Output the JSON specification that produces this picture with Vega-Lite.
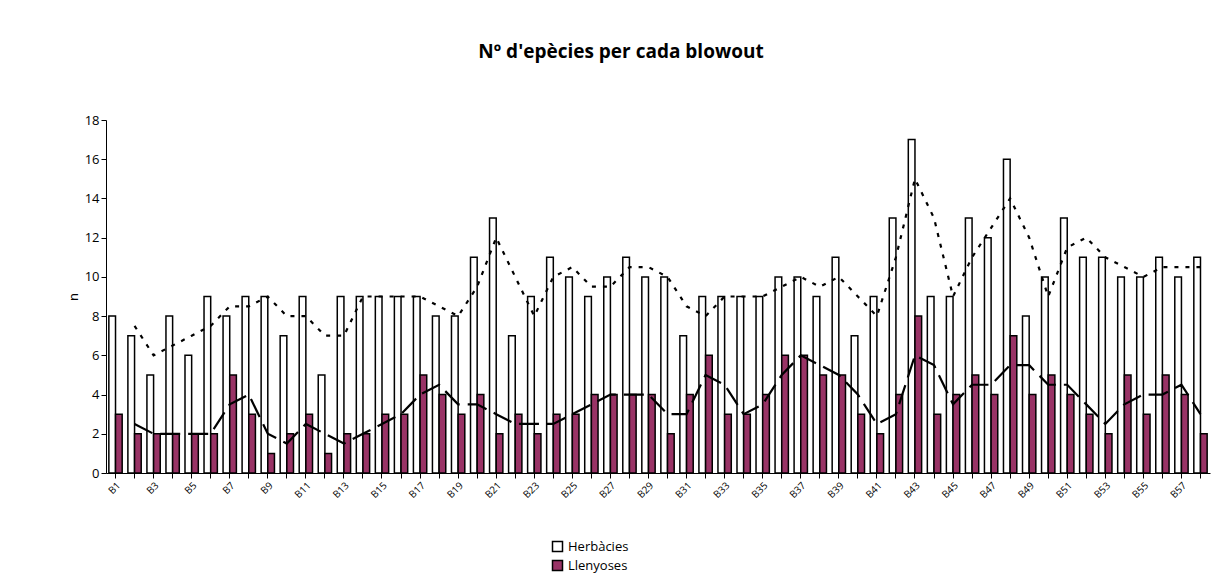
{
  "$schema": "https://vega.github.io/schema/vega-lite/v6.json",
  "autosize": "none",
  "width": 1104,
  "height": 353,
  "padding": {"left": 106, "top": 120, "right": 13, "bottom": 106},
  "background": "white",
  "config": {
    "view": {"stroke": null},
    "font": "Open Sans",
    "axis": {"grid": false, "domainColor": "black", "tickColor": "black", "labelColor": "black", "titleColor": "black"}
  },
  "title": {
    "text": "Nº d'epècies per cada blowout",
    "fontSize": 19,
    "fontWeight": "bold",
    "color": "black",
    "anchor": "middle",
    "dx": -37,
    "offset": 52
  },
  "data": {"values": [
    {"b":"B1","Herbàcies":8,"Llenyoses":3,"herbMA":null,"llenMA":null},
    {"b":"B2","Herbàcies":7,"Llenyoses":2,"herbMA":7.5,"llenMA":2.5},
    {"b":"B3","Herbàcies":5,"Llenyoses":2,"herbMA":6,"llenMA":2},
    {"b":"B4","Herbàcies":8,"Llenyoses":2,"herbMA":6.5,"llenMA":2},
    {"b":"B5","Herbàcies":6,"Llenyoses":2,"herbMA":7,"llenMA":2},
    {"b":"B6","Herbàcies":9,"Llenyoses":2,"herbMA":7.5,"llenMA":2},
    {"b":"B7","Herbàcies":8,"Llenyoses":5,"herbMA":8.5,"llenMA":3.5},
    {"b":"B8","Herbàcies":9,"Llenyoses":3,"herbMA":8.5,"llenMA":4},
    {"b":"B9","Herbàcies":9,"Llenyoses":1,"herbMA":9,"llenMA":2},
    {"b":"B10","Herbàcies":7,"Llenyoses":2,"herbMA":8,"llenMA":1.5},
    {"b":"B11","Herbàcies":9,"Llenyoses":3,"herbMA":8,"llenMA":2.5},
    {"b":"B12","Herbàcies":5,"Llenyoses":1,"herbMA":7,"llenMA":2},
    {"b":"B13","Herbàcies":9,"Llenyoses":2,"herbMA":7,"llenMA":1.5},
    {"b":"B14","Herbàcies":9,"Llenyoses":2,"herbMA":9,"llenMA":2},
    {"b":"B15","Herbàcies":9,"Llenyoses":3,"herbMA":9,"llenMA":2.5},
    {"b":"B16","Herbàcies":9,"Llenyoses":3,"herbMA":9,"llenMA":3},
    {"b":"B17","Herbàcies":9,"Llenyoses":5,"herbMA":9,"llenMA":4},
    {"b":"B18","Herbàcies":8,"Llenyoses":4,"herbMA":8.5,"llenMA":4.5},
    {"b":"B19","Herbàcies":8,"Llenyoses":3,"herbMA":8,"llenMA":3.5},
    {"b":"B20","Herbàcies":11,"Llenyoses":4,"herbMA":9.5,"llenMA":3.5},
    {"b":"B21","Herbàcies":13,"Llenyoses":2,"herbMA":12,"llenMA":3},
    {"b":"B22","Herbàcies":7,"Llenyoses":3,"herbMA":10,"llenMA":2.5},
    {"b":"B23","Herbàcies":9,"Llenyoses":2,"herbMA":8,"llenMA":2.5},
    {"b":"B24","Herbàcies":11,"Llenyoses":3,"herbMA":10,"llenMA":2.5},
    {"b":"B25","Herbàcies":10,"Llenyoses":3,"herbMA":10.5,"llenMA":3},
    {"b":"B26","Herbàcies":9,"Llenyoses":4,"herbMA":9.5,"llenMA":3.5},
    {"b":"B27","Herbàcies":10,"Llenyoses":4,"herbMA":9.5,"llenMA":4},
    {"b":"B28","Herbàcies":11,"Llenyoses":4,"herbMA":10.5,"llenMA":4},
    {"b":"B29","Herbàcies":10,"Llenyoses":4,"herbMA":10.5,"llenMA":4},
    {"b":"B30","Herbàcies":10,"Llenyoses":2,"herbMA":10,"llenMA":3},
    {"b":"B31","Herbàcies":7,"Llenyoses":4,"herbMA":8.5,"llenMA":3},
    {"b":"B32","Herbàcies":9,"Llenyoses":6,"herbMA":8,"llenMA":5},
    {"b":"B33","Herbàcies":9,"Llenyoses":3,"herbMA":9,"llenMA":4.5},
    {"b":"B34","Herbàcies":9,"Llenyoses":3,"herbMA":9,"llenMA":3},
    {"b":"B35","Herbàcies":9,"Llenyoses":4,"herbMA":9,"llenMA":3.5},
    {"b":"B36","Herbàcies":10,"Llenyoses":6,"herbMA":9.5,"llenMA":5},
    {"b":"B37","Herbàcies":10,"Llenyoses":6,"herbMA":10,"llenMA":6},
    {"b":"B38","Herbàcies":9,"Llenyoses":5,"herbMA":9.5,"llenMA":5.5},
    {"b":"B39","Herbàcies":11,"Llenyoses":5,"herbMA":10,"llenMA":5},
    {"b":"B40","Herbàcies":7,"Llenyoses":3,"herbMA":9,"llenMA":4},
    {"b":"B41","Herbàcies":9,"Llenyoses":2,"herbMA":8,"llenMA":2.5},
    {"b":"B42","Herbàcies":13,"Llenyoses":4,"herbMA":11,"llenMA":3},
    {"b":"B43","Herbàcies":17,"Llenyoses":8,"herbMA":15,"llenMA":6},
    {"b":"B44","Herbàcies":9,"Llenyoses":3,"herbMA":13,"llenMA":5.5},
    {"b":"B45","Herbàcies":9,"Llenyoses":4,"herbMA":9,"llenMA":3.5},
    {"b":"B46","Herbàcies":13,"Llenyoses":5,"herbMA":11,"llenMA":4.5},
    {"b":"B47","Herbàcies":12,"Llenyoses":4,"herbMA":12.5,"llenMA":4.5},
    {"b":"B48","Herbàcies":16,"Llenyoses":7,"herbMA":14,"llenMA":5.5},
    {"b":"B49","Herbàcies":8,"Llenyoses":4,"herbMA":12,"llenMA":5.5},
    {"b":"B50","Herbàcies":10,"Llenyoses":5,"herbMA":9,"llenMA":4.5},
    {"b":"B51","Herbàcies":13,"Llenyoses":4,"herbMA":11.5,"llenMA":4.5},
    {"b":"B52","Herbàcies":11,"Llenyoses":3,"herbMA":12,"llenMA":3.5},
    {"b":"B53","Herbàcies":11,"Llenyoses":2,"herbMA":11,"llenMA":2.5},
    {"b":"B54","Herbàcies":10,"Llenyoses":5,"herbMA":10.5,"llenMA":3.5},
    {"b":"B55","Herbàcies":10,"Llenyoses":3,"herbMA":10,"llenMA":4},
    {"b":"B56","Herbàcies":11,"Llenyoses":5,"herbMA":10.5,"llenMA":4},
    {"b":"B57","Herbàcies":10,"Llenyoses":4,"herbMA":10.5,"llenMA":4.5},
    {"b":"B58","Herbàcies":11,"Llenyoses":2,"herbMA":10.5,"llenMA":3}
  ]},
  "layer": [
    {
      "transform": [{"fold": ["Herbàcies", "Llenyoses"], "as": ["serie", "n"]}],
      "mark": {"type": "bar", "stroke": "black", "strokeWidth": 1.5},
      "encoding": {
        "x": {
          "field": "b", "type": "nominal", "sort": null,
          "scale": {"paddingInner": 0.3, "paddingOuter": 0.15},
          "axis": {"title": null, "labelAngle": -45, "labelExpr": "isString(datum.value) && toNumber(slice(datum.value, 1)) % 2 == 1 ? datum.value : ''"}
        },
        "xOffset": {"field": "serie", "type": "nominal"},
        "y": {
          "field": "n", "type": "quantitative",
          "scale": {"domain": [0, 18], "nice": false},
          "axis": {"title": "n", "titleFontWeight": "normal", "titleFontSize": 13, "labelFontSize": 13, "values": [0, 2, 4, 6, 8, 10, 12, 14, 16, 18]}
        },
        "fill": {
          "field": "serie", "type": "nominal",
          "scale": {"domain": ["Herbàcies", "Llenyoses"], "range": ["white", "#993366"]},
          "legend": {"title": null, "orient": "none", "legendX": 445, "legendY": 420, "labelFontSize": 13}
        }
      }
    },
    {
      "mark": {"type": "line", "color": "black", "strokeWidth": 2.2, "strokeDash": [4, 7]},
      "encoding": {
        "x": {"field": "b", "type": "nominal", "sort": null, "axis": {"title": null, "labelAngle": -45, "labelExpr": "isString(datum.value) && toNumber(slice(datum.value, 1)) % 2 == 1 ? datum.value : ''"}},
        "y": {
          "field": "herbMA", "type": "quantitative",
          "axis": {"title": "n", "titleFontWeight": "normal", "titleFontSize": 13, "labelFontSize": 13, "values": [0, 2, 4, 6, 8, 10, 12, 14, 16, 18]}
        }
      }
    },
    {
      "mark": {"type": "line", "color": "black", "strokeWidth": 2.2, "strokeDash": [20, 8]},
      "encoding": {
        "x": {"field": "b", "type": "nominal", "sort": null, "axis": {"title": null, "labelAngle": -45, "labelExpr": "isString(datum.value) && toNumber(slice(datum.value, 1)) % 2 == 1 ? datum.value : ''"}},
        "y": {
          "field": "llenMA", "type": "quantitative",
          "axis": {"title": "n", "titleFontWeight": "normal", "titleFontSize": 13, "labelFontSize": 13, "values": [0, 2, 4, 6, 8, 10, 12, 14, 16, 18]}
        }
      }
    }
  ]
}
